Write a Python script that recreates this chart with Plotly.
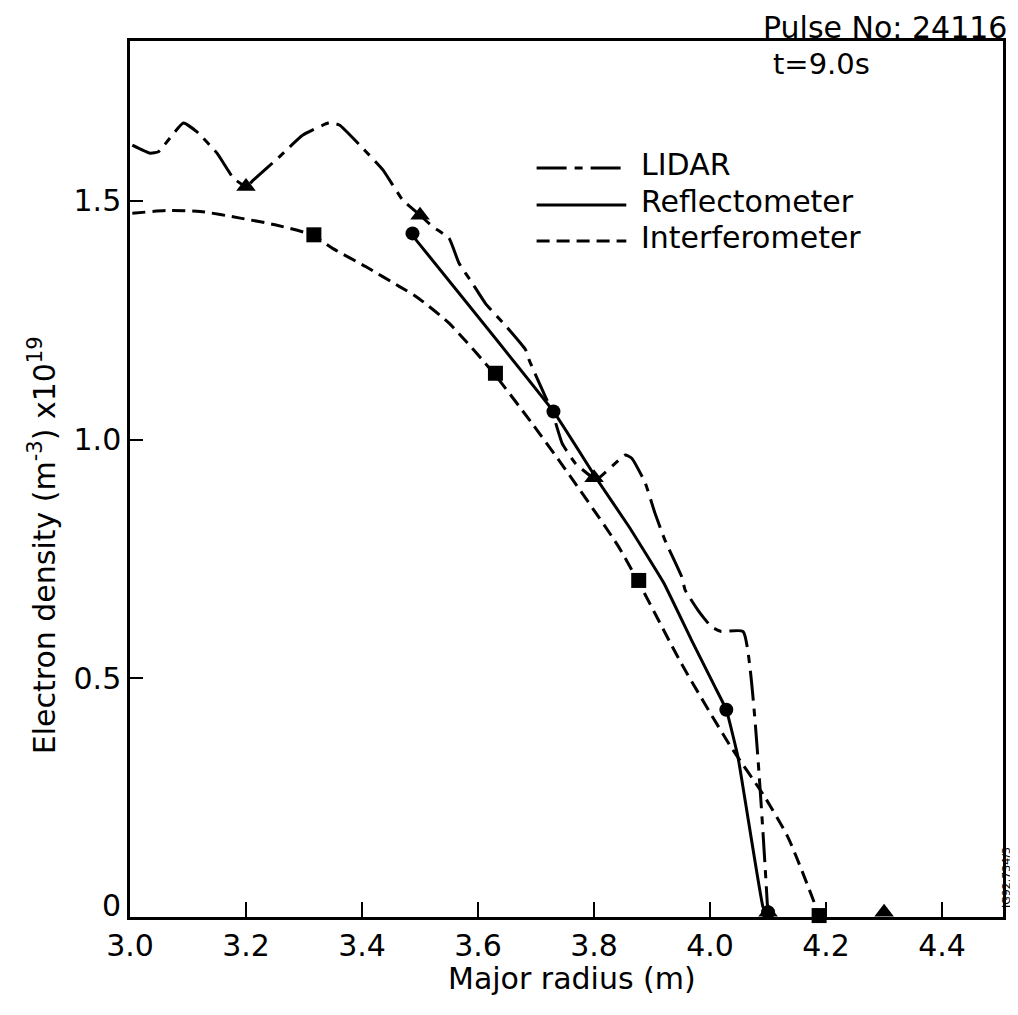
import plotly.graph_objects as go

# ---------------- data ----------------
lidar_x = [3.004, 3.035, 3.049, 3.092, 3.115, 3.150, 3.178, 3.200, 3.213, 3.258,
           3.298, 3.344, 3.361, 3.407, 3.436, 3.470, 3.500, 3.522, 3.550, 3.567,
           3.590, 3.613, 3.650, 3.682, 3.688, 3.716, 3.727, 3.745, 3.768, 3.796,
           3.805, 3.854, 3.865, 3.888, 3.905, 3.922, 3.951, 3.957, 3.979, 4.002,
           4.019, 4.057, 4.100]
lidar_y = [1.617, 1.600, 1.603, 1.663, 1.645, 1.600, 1.548, 1.530, 1.544, 1.593,
           1.638, 1.664, 1.659, 1.603, 1.565, 1.502, 1.470, 1.446, 1.422, 1.370,
           1.328, 1.285, 1.235, 1.188, 1.167, 1.090, 1.062, 0.992, 0.950, 0.922,
           0.917, 0.968, 0.961, 0.910, 0.846, 0.790, 0.713, 0.685, 0.643, 0.608,
           0.598, 0.598, 0.000]
lidar_mx = [3.20, 3.50, 3.80, 4.10, 4.30]
lidar_my = [1.53, 1.47, 0.92, 0.01, 0.01]

refl_x = [3.484, 3.730, 3.805, 3.860, 3.920, 3.968, 4.008, 4.028, 4.048, 4.065, 4.091, 4.100]
refl_y = [1.432, 1.059, 0.917, 0.818, 0.700, 0.580, 0.483, 0.434, 0.336, 0.210, 0.022, 0.000]
refl_mx = [3.487, 3.730, 4.028, 4.100]
refl_my = [1.432, 1.059, 0.434, 0.010]

interf_x = [3.004, 3.064, 3.121, 3.190, 3.250, 3.313, 3.350, 3.407, 3.464, 3.493,
            3.550, 3.627, 3.693, 3.751, 3.840, 3.876, 3.951, 4.034, 4.094, 4.134,
            4.180, 4.188]
interf_y = [1.474, 1.480, 1.478, 1.464, 1.450, 1.429, 1.400, 1.362, 1.321, 1.300,
            1.244, 1.139, 1.034, 0.937, 0.780, 0.703, 0.530, 0.360, 0.252, 0.168,
            0.029, 0.000]
interf_mx = [3.317, 3.630, 3.877, 4.188]
interf_my = [1.429, 1.139, 0.705, 0.003]

x_ticks = [3.0, 3.2, 3.4, 3.6, 3.8, 4.0, 4.2, 4.4]
x_ticktext = ["3.0", "3.2", "3.4", "3.6", "3.8", "4.0", "4.2", "4.4"]
y_ticks = [0.5, 1.0, 1.5]
y_ticktext = ["0.5", "1.0", "1.5"]
y_zero_label = "0"   # raised above the axis corner in the reference (drawn as annotation)

legend_names = ["LIDAR", "Reflectometer", "Interferometer"]

# ---------------- styles ----------------
FONT = "DejaVu Sans"
BLACK = "black"
DASH_LIDAR = "30px,8px,8px,8px"
DASH_INTERF = "13px,7px"
LW = 3

# page body has an 8px margin: the figure is drawn 8px in from the window edge
OFF = 8
FIG_W, FIG_H = 1018 - OFF - 2, 1015 - 2 * OFF - 1

fig = go.Figure()

fig.add_trace(go.Scatter(x=lidar_x, y=lidar_y, mode="lines",
                         line=dict(color=BLACK, width=LW, dash=DASH_LIDAR, shape="spline", smoothing=0.4),
                         showlegend=False, name=legend_names[0]))
fig.add_trace(go.Scatter(x=refl_x, y=refl_y, mode="lines",
                         line=dict(color=BLACK, width=LW, shape="spline", smoothing=0.3),
                         showlegend=False, name=legend_names[1]))
fig.add_trace(go.Scatter(x=interf_x, y=interf_y, mode="lines",
                         line=dict(color=BLACK, width=LW, dash=DASH_INTERF, shape="spline", smoothing=0.6),
                         showlegend=False, name=legend_names[2]))

fig.add_trace(go.Scatter(x=lidar_mx, y=lidar_my, mode="markers", cliponaxis=False,
                         marker=dict(symbol="triangle-up", size=17, color=BLACK),
                         showlegend=False, name=legend_names[0]))
fig.add_trace(go.Scatter(x=refl_mx, y=refl_my, mode="markers", cliponaxis=False,
                         marker=dict(symbol="circle", size=14, color=BLACK),
                         showlegend=False, name=legend_names[1]))
fig.add_trace(go.Scatter(x=interf_mx, y=interf_my, mode="markers", cliponaxis=False,
                         marker=dict(symbol="square", size=15, color=BLACK),
                         showlegend=False, name=legend_names[2]))

# plot-area geometry in window pixels (reference), converted to figure pixels
L, R, T, B = 130 - OFF, 1006 - OFF, 41 - OFF, 917 - OFF
W, H = R - L, B - T


def px(xp):
    return (xp - OFF - L) / W


def py(yp):
    return (B - (yp - OFF)) / H


# manual legend (long line samples like the reference)
legend_rows = [(168, 164, DASH_LIDAR), (205, 201, "solid"), (241, 237, DASH_INTERF)]
shapes = []
annotations = []
for name, (ly, ty, dash) in zip(legend_names, legend_rows):
    shapes.append(dict(type="line", xref="paper", yref="paper",
                       x0=px(538), x1=px(628), y0=py(ly), y1=py(ly),
                       line=dict(color=BLACK, width=LW, dash=dash)))
    annotations.append(dict(text=name, xref="paper", yref="paper",
                            x=px(641), y=py(ty), xanchor="left", yanchor="middle",
                            showarrow=False, font=dict(family=FONT, size=30, color=BLACK)))

annotations += [
    dict(text="Pulse No: 24116", xref="paper", yref="paper", x=px(1012), y=py(27),
         xanchor="right", yanchor="middle", showarrow=False,
         font=dict(family=FONT, size=30, color=BLACK)),
    dict(text="t=9.0s", xref="paper", yref="paper", x=px(824), y=py(64),
         xanchor="center", yanchor="middle", showarrow=False,
         font=dict(family=FONT, size=29, color=BLACK)),
    dict(text="Electron density (m<sup>-3</sup>) x10<sup>19</sup>", xref="paper", yref="paper",
         x=px(42), y=py(545), xanchor="center", yanchor="middle", textangle=-90,
         showarrow=False, font=dict(family=FONT, size=30, color=BLACK)),
    dict(text="Major radius (m)", xref="paper", yref="paper", x=px(574), y=py(978),
         xanchor="center", yanchor="middle", showarrow=False,
         font=dict(family=FONT, size=30, color=BLACK)),
    dict(text=y_zero_label, xref="paper", yref="paper", x=px(123), y=py(905),
         xanchor="right", yanchor="middle", showarrow=False,
         font=dict(family=FONT, size=30, color=BLACK)),
    dict(text="JG92.734/3", xref="paper", yref="paper", x=px(1009), y=py(878),
         xanchor="center", yanchor="middle", textangle=-90, showarrow=False,
         font=dict(family=FONT, size=11, color=BLACK)),
]

fig.update_layout(
    width=FIG_W, height=FIG_H,
    margin=dict(l=L, r=FIG_W - R, t=T, b=FIG_H - B, pad=0),
    paper_bgcolor="white", plot_bgcolor="white",
    showlegend=False,
    shapes=shapes, annotations=annotations,
    font=dict(family=FONT, color=BLACK),
)
fig.update_xaxes(range=[3.0, 4.505], tickvals=x_ticks, ticktext=x_ticktext,
                 ticks="inside", ticklen=15, tickwidth=2, tickcolor=BLACK,
                 showline=True, linewidth=2.5, linecolor=BLACK, mirror=True,
                 showgrid=False, zeroline=False,
                 tickfont=dict(family=FONT, size=30, color=BLACK))
fig.update_yaxes(range=[0, 1.835], tickvals=y_ticks, ticktext=y_ticktext,
                 ticks="inside", ticklen=13, tickwidth=2, tickcolor=BLACK,
                 showline=True, linewidth=2.5, linecolor=BLACK, mirror=True,
                 showgrid=False, zeroline=False,
                 tickfont=dict(family=FONT, size=30, color=BLACK))

fig.write_html("out.html")
